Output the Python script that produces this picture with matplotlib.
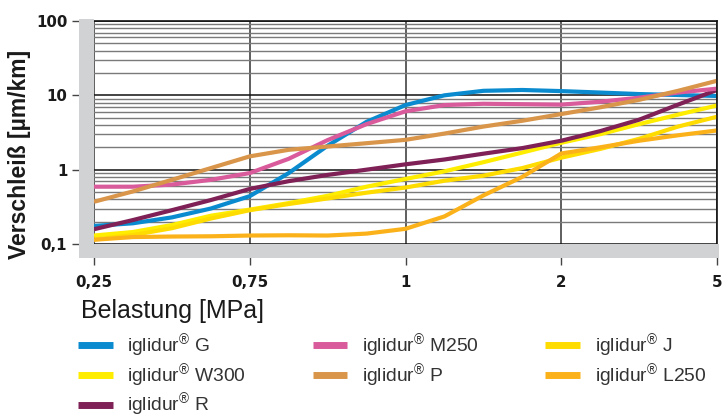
import matplotlib
matplotlib.use("Agg")
import matplotlib.pyplot as plt
from matplotlib.lines import Line2D
from matplotlib.patches import Rectangle
from matplotlib.ticker import LogLocator, NullFormatter, FixedLocator

# load steps on the category axis (0.25, 0.75, 1, 2, 5 MPa -> index 0..4), read every quarter step
pos = [0, 0.25, 0.5, 0.75, 1, 1.25, 1.5, 1.75, 2, 2.25, 2.5, 2.75, 3, 3.25, 3.5, 3.75, 4]
x_ticklabels = ["0,25", "0,75", "1", "2", "5"]
y_ticks = [0.1, 1, 10, 100]
y_ticklabels = ["0,1", "1", "10", "100"]

wear_g = [0.175, 0.19, 0.228, 0.30, 0.44, 0.90, 2.1, 4.4, 7.4, 10.0, 11.5, 11.8, 11.4, 10.9, 10.4, 10.1, 9.8]
wear_w300 = [0.13, 0.145, 0.18, 0.24, 0.29, 0.355, 0.445, 0.59, 0.75, 0.95, 1.26, 1.7, 2.3, 3.0, 4.1, 5.5, 7.3]
wear_r = [0.158, 0.21, 0.285, 0.39, 0.55, 0.70, 0.85, 1.0, 1.18, 1.37, 1.64, 1.95, 2.45, 3.3, 4.7, 7.5, 11.8]
wear_m250 = [0.59, 0.59, 0.63, 0.73, 0.9, 1.4, 2.5, 4.1, 6.1, 7.4, 7.7, 7.6, 7.5, 8.2, 9.3, 10.9, 12.3]
wear_p = [0.37, 0.51, 0.73, 1.05, 1.51, 1.85, 2.05, 2.27, 2.52, 3.06, 3.8, 4.55, 5.6, 6.9, 8.7, 11.5, 15.7]
wear_j = [0.115, 0.132, 0.163, 0.22, 0.285, 0.345, 0.41, 0.49, 0.575, 0.71, 0.83, 1.05, 1.45, 1.9, 2.6, 3.8, 5.15]
wear_l250 = [0.114, 0.124, 0.126, 0.127, 0.13, 0.131, 0.13, 0.138, 0.16, 0.235, 0.45, 0.8, 1.65, 2.0, 2.45, 2.9, 3.37]

series = [
    ("iglidur$^{®}$ G", wear_g, "#0A8BCF"),
    ("iglidur$^{®}$ W300", wear_w300, "#FFED00"),
    ("iglidur$^{®}$ R", wear_r, "#7F2156"),
    ("iglidur$^{®}$ M250", wear_m250, "#D95B9B"),
    ("iglidur$^{®}$ P", wear_p, "#D9964A"),
    ("iglidur$^{®}$ J", wear_j, "#FFDC00"),
    ("iglidur$^{®}$ L250", wear_l250, "#FBB21A"),
]

plt.rcParams["font.family"] = ["Liberation Sans", "DejaVu Sans"]
plt.rcParams["mathtext.fontset"] = "custom"
plt.rcParams["mathtext.rm"] = "Liberation Sans"
plt.rcParams["mathtext.it"] = "Liberation Sans"
plt.rcParams["mathtext.bf"] = "Liberation Sans:bold"

W, H = 724, 419
fig = plt.figure(figsize=(W / 100, H / 100), dpi=100)
ax = fig.add_axes([94 / W, 1 - 244 / H, 623 / W, 223 / H])

for label, vals, color in series:
    ax.plot(pos, vals, color=color, lw=3, solid_capstyle="butt",
            solid_joinstyle="round", zorder=2)

ax.set_yscale("log")
ax.set_ylim(0.1, 100)
ax.set_xlim(0, 4)
ax.set_axisbelow(True)

ax.yaxis.set_major_locator(FixedLocator(y_ticks))
ax.set_yticklabels(y_ticklabels)
ax.yaxis.set_minor_locator(LogLocator(subs=range(2, 10)))
ax.yaxis.set_minor_formatter(NullFormatter())
ax.set_xticks(range(len(x_ticklabels)))
ax.set_xticklabels(x_ticklabels)

ax.grid(True, axis="y", which="major", color="#111111", lw=1.1)
ax.grid(True, axis="y", which="minor", color="#7a7a7a", lw=1.0)
ax.grid(True, axis="x", which="major", color="#333333", lw=1.1)

ax.tick_params(axis="y", which="major", direction="out", length=15.8, width=1,
               color="#444444", pad=3.5)
ax.tick_params(axis="y", which="minor", length=0)
ax.tick_params(axis="x", direction="out", length=15.1, width=1,
               color="#444444", pad=7)
for t in ax.get_xticklabels() + ax.get_yticklabels():
    t.set_fontfamily("DejaVu Sans")
    t.set_fontweight("bold")
    t.set_fontsize(10.8)
    t.set_color("#1a1a1a")

for side in ["left", "bottom"]:
    ax.spines[side].set_visible(False)
for side in ["top", "right"]:
    ax.spines[side].set_color("#111111")
    ax.spines[side].set_linewidth(1.2)

# grey frame bands on the left and bottom
band = "#D1D2D4"
bx = -15 / 623
by = -14 / 223
ax.add_patch(Rectangle((bx, by), -bx, 1 - by + 2 / 223, transform=ax.transAxes,
                       color=band, clip_on=False, zorder=3, lw=0))
ax.add_patch(Rectangle((bx, by), 640 / 623, -by, transform=ax.transAxes,
                       color=band, clip_on=False, zorder=3, lw=0))

fig.text(20 / W, 1 - 154 / H, "Verschleiß [µm/km]", rotation=90, ha="center",
         va="center", fontsize=16.5, fontweight="bold", color="#1a1a1a")
fig.text(81 / W, 1 - 318 / H, "Belastung [MPa]", ha="left", va="baseline",
         fontsize=18, color="#1a1a1a")

handles = [Line2D([], [], color=c, lw=5, solid_capstyle="butt") for _, _, c in series]
labels = [s[0] for s in series]
leg = fig.legend(handles, labels, loc="upper left", bbox_to_anchor=(78 / W, 1 - 332 / H),
                 ncol=3, frameon=False, borderpad=0, borderaxespad=0,
                 handlelength=1.8, handletextpad=0.75, columnspacing=3.45,
                 labelspacing=0.1, prop={"size": 13.9})
for t in leg.get_texts():
    t.set_color("#333333")

fig.savefig("out.png", dpi=100)
